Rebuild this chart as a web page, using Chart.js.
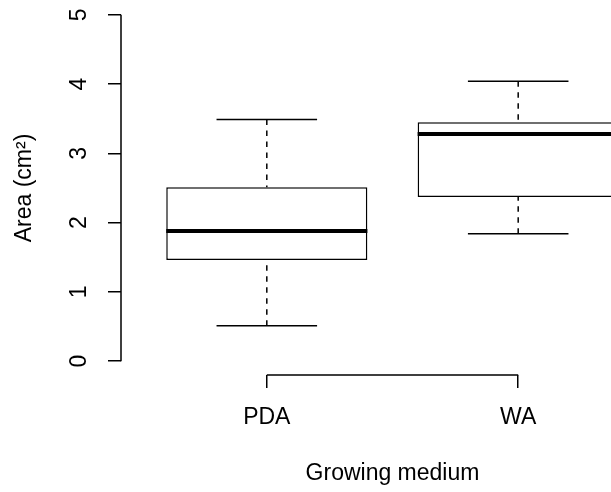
<!DOCTYPE html>
<html>
<head>
<meta charset="utf-8">
<script src="https://cdn.jsdelivr.net/npm/chart.js@4.4.1/dist/chart.umd.min.js"></script>
<style>
html, body { margin: 0; padding: 0; background: #fff; overflow: hidden; }
#wrap { width: 664px; height: 492px; }
</style>
</head>
<body>
<div id="wrap"><canvas id="chart_areaBoxplot"></canvas></div>
<script>
// values
var categories = ['PDA', 'WA'];
var whiskerLow = [0.51, 1.84];
var quartile1 = [1.46, 2.37];
var medians = [1.88, 3.28];
var quartile3 = [2.51, 3.45];
var whiskerHigh = [3.49, 4.04];
var yTicks = [0, 1, 2, 3, 4, 5];

var FONT = "'Liberation Sans', Arial, sans-serif";
var BOX_WIDTH = 0.8;   // in category units, like R's boxplot
var STAPLE = 0.5;      // cap width relative to box

var boxData = categories.map(function (c, i) {
    return { x: i + 1, y: [quartile1[i], quartile3[i]] };
});

// whiskers, caps, medians and R-style axis lines
var boxplotPlugin = {
    id: 'boxplotPlugin',
    afterDatasetsDraw: function (chart) {
        var ctx = chart.ctx;
        var xs = chart.scales.x, ys = chart.scales.y;
        ctx.save();
        ctx.strokeStyle = '#000';
        categories.forEach(function (c, i) {
            var cx = xs.getPixelForValue(i + 1);
            var half = xs.getPixelForValue(i + 1 + BOX_WIDTH / 2) - cx;
            var capHalf = half * STAPLE;
            // dashed whiskers, drawn from the cap towards the box
            ctx.lineWidth = 1.5;
            ctx.setLineDash([5.5, 5.5]);
            ctx.beginPath();
            ctx.moveTo(cx, ys.getPixelForValue(whiskerHigh[i]));
            ctx.lineTo(cx, ys.getPixelForValue(quartile3[i]));
            ctx.moveTo(cx, ys.getPixelForValue(whiskerLow[i]));
            ctx.lineTo(cx, ys.getPixelForValue(quartile1[i]));
            ctx.stroke();
            ctx.setLineDash([]);
            // caps
            ctx.beginPath();
            [whiskerHigh[i], whiskerLow[i]].forEach(function (v) {
                var py = ys.getPixelForValue(v);
                ctx.moveTo(cx - capHalf, py);
                ctx.lineTo(cx + capHalf, py);
            });
            ctx.stroke();
            // median
            ctx.lineWidth = 4;
            ctx.beginPath();
            var my = ys.getPixelForValue(medians[i]);
            ctx.moveTo(cx - half, my);
            ctx.lineTo(cx + half, my);
            ctx.stroke();
        });
        // axis lines only spanning the ticks
        ctx.lineWidth = 1.5;
        ctx.beginPath();
        var ax = chart.chartArea.left;
        ctx.moveTo(ax, ys.getPixelForValue(yTicks[0]));
        ctx.lineTo(ax, ys.getPixelForValue(yTicks[yTicks.length - 1]));
        var ay = chart.chartArea.bottom;
        ctx.moveTo(xs.getPixelForValue(1), ay);
        ctx.lineTo(xs.getPixelForValue(categories.length), ay);
        ctx.stroke();
        ctx.restore();
    }
};

var chart_areaBoxplot = new Chart(document.getElementById('chart_areaBoxplot'), {
    type: 'bar',
    data: {
        datasets: [{
            label: 'Area',
            data: boxData,
            backgroundColor: '#fff',
            borderColor: '#000',
            borderWidth: 1.5,
            borderSkipped: false,
            barPercentage: 1,
            categoryPercentage: BOX_WIDTH
        }]
    },
    options: {
        animation: false,
        responsive: true,
        maintainAspectRatio: false,
        layout: { padding: { top: 1, left: 0, right: 0, bottom: 0 } },
        plugins: {
            legend: { display: false },
            tooltip: { enabled: false }
        },
        scales: {
            x: {
                type: 'linear',
                min: 0.42,
                max: categories.length + 0.58,
                offset: false,
                afterBuildTicks: function (scale) {
                    scale.ticks = categories.map(function (c, i) { return { value: i + 1 }; });
                },
                afterFit: function (scale) {
                    scale.height = 117;
                    scale.paddingLeft = 0;
                    scale.paddingRight = 0;
                },
                ticks: {
                    callback: function (v) { return categories[v - 1]; },
                    color: '#000',
                    font: { family: FONT, size: 23 },
                    padding: 16,
                    maxRotation: 0
                },
                grid: {
                    offset: false,
                    drawOnChartArea: false,
                    drawTicks: true,
                    tickLength: 13,
                    color: '#000',
                    lineWidth: 1.5
                },
                border: { display: false },
                title: {
                    display: true,
                    text: 'Growing medium',
                    color: '#000',
                    font: { family: FONT, size: 23 },
                    padding: { top: 0, bottom: 5 }
                }
            },
            y: {
                type: 'linear',
                min: -0.2,
                max: 5.2,
                afterBuildTicks: function (scale) {
                    scale.ticks = yTicks.map(function (v) { return { value: v }; });
                },
                afterFit: function (scale) {
                    scale.width = 121;
                    scale.paddingTop = 0;
                    scale.paddingBottom = 0;
                },
                ticks: {
                    callback: function (v) { return String(v); },
                    color: '#000',
                    font: { family: FONT, size: 23 },
                    minRotation: 90,
                    maxRotation: 90,
                    crossAlign: 'center',
                    padding: 22
                },
                grid: {
                    drawOnChartArea: false,
                    drawTicks: true,
                    tickLength: 13,
                    color: '#000',
                    lineWidth: 1.5
                },
                border: { display: false },
                title: {
                    display: true,
                    text: 'Area (cm²)',
                    color: '#000',
                    font: { family: FONT, size: 23 },
                    padding: { top: 11, bottom: 0 }
                }
            }
        }
    },
    plugins: [boxplotPlugin]
});
</script>
</body>
</html>
